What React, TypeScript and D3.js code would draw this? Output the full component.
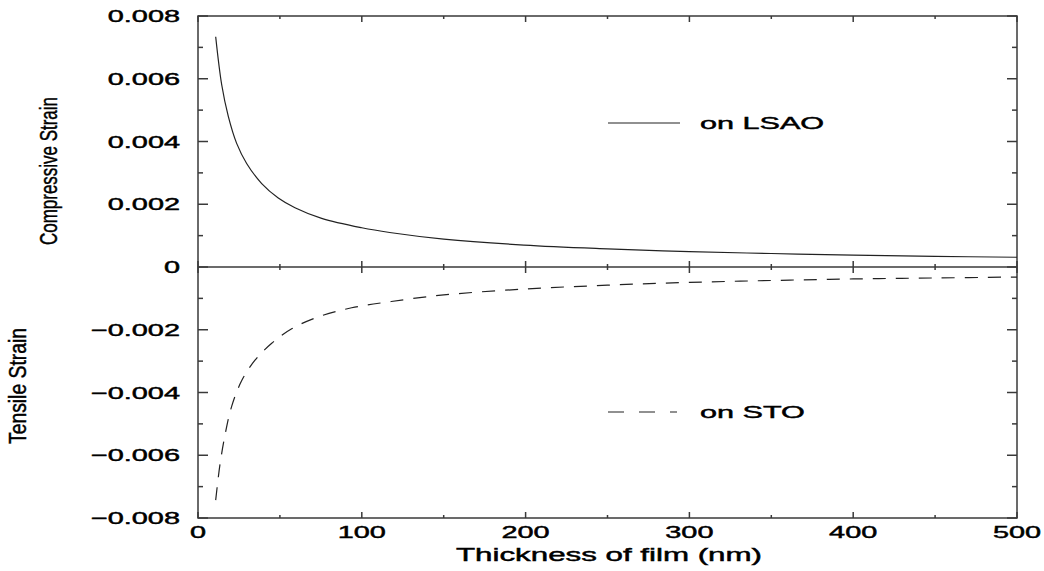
import React from "react";
import * as d3 from "d3";

const W = 1044;
const H = 571;

// Compressive strain on LSAO (upper series)
const lsaoThickness = [10.8, 14.5, 18.5, 23.6, 29.7, 38.9, 49, 59.2, 75.5, 100, 117, 150, 199, 250, 300, 350, 400, 450, 500];
const lsaoStrain = [0.00734, 0.0058, 0.0048, 0.00394, 0.0033, 0.00266, 0.0022, 0.00189, 0.00155, 0.00125, 0.0011, 0.00089, 0.0007, 0.00058, 0.00049, 0.00043, 0.00038, 0.00034, 0.00031];

// Tensile strain on STO (lower series)
const stoThickness = [10.8, 13.4, 16.5, 20.5, 26.7, 34.8, 45, 57.2, 73.4, 93.8, 118, 150, 200, 250, 300, 350, 400, 450, 500];
const stoStrain = [-0.00743, -0.0063, -0.00535, -0.00445, -0.00362, -0.00297, -0.00243, -0.00197, -0.00159, -0.0013, -0.0011, -0.00089, -0.0007, -0.00058, -0.00049, -0.00043, -0.00038, -0.00035, -0.00032];

const xMajorTicks = [0, 100, 200, 300, 400, 500];
const xMinorTicks = [50, 150, 250, 350, 450];
const yMajorTicks = [-0.008, -0.006, -0.004, -0.002, 0, 0.002, 0.004, 0.006, 0.008];
const yMinorTicks = [-0.007, -0.005, -0.003, -0.001, 0.001, 0.003, 0.005, 0.007];
const yTickLabels = ["\u22120.008", "\u22120.006", "\u22120.004", "\u22120.002", "0", "0.002", "0.004", "0.006", "0.008"];
const xTickLabels = ["0", "100", "200", "300", "400", "500"];

const legendLabels = ["on LSAO", "on STO"];
const xTitle = "Thickness of film (nm)";
const yTitleTop = "Compressive Strain";
const yTitleBottom = "Tensile Strain";

const L = 198, R = 1017, T = 16, B = 518;
const AX = "#3a3a3a";
const FONT = "'Liberation Sans', Arial, Helvetica, sans-serif";
const SX = 1.7;
const TS = { stroke: "#000", strokeWidth: 0.45 };

export default function App() {
  const x = d3.scaleLinear().domain([0, 500]).range([L, R]);
  const y = d3.scaleLinear().domain([-0.008, 0.008]).range([B, T]);

  const line = d3
    .line<[number, number]>()
    .x((d) => x(d[0]))
    .y((d) => y(d[1]))
    .curve(d3.curveCatmullRom.alpha(0.5));

  const lsao = line(lsaoThickness.map((t, i) => [t, lsaoStrain[i]]) as [number, number][]) || "";
  const sto = line(stoThickness.map((t, i) => [t, stoStrain[i]]) as [number, number][]) || "";
  const y0 = y(0);

  return (
    <svg
      width={W}
      height={H}
      style={{ position: "absolute", left: 0, top: 0, background: "#fff" }}
    >
      <rect x={0} y={0} width={W} height={H} fill="#fff" />
      {/* frame */}
      <rect x={L} y={T} width={R - L} height={B - T} fill="none" stroke={AX} strokeWidth={1.5} />
      <line x1={L} x2={R} y1={y0} y2={y0} stroke={AX} strokeWidth={1.5} />

      {/* y ticks */}
      {yMajorTicks.map((v) => (
        <g key={"ym" + v}>
          <line x1={L} x2={L + 10} y1={y(v)} y2={y(v)} stroke={AX} strokeWidth={1.5} />
          <line x1={R} x2={R - 10} y1={y(v)} y2={y(v)} stroke={AX} strokeWidth={1.5} />
        </g>
      ))}
      {yMinorTicks.map((v) => (
        <g key={"yn" + v}>
          <line x1={L} x2={L + 5} y1={y(v)} y2={y(v)} stroke={AX} strokeWidth={1.5} />
          <line x1={R} x2={R - 5} y1={y(v)} y2={y(v)} stroke={AX} strokeWidth={1.5} />
        </g>
      ))}
      {/* x ticks */}
      {xMajorTicks.map((v) => (
        <g key={"xm" + v}>
          <line x1={x(v)} x2={x(v)} y1={B} y2={B - 6} stroke={AX} strokeWidth={1.5} />
          <line x1={x(v)} x2={x(v)} y1={T} y2={T + 6} stroke={AX} strokeWidth={1.5} />
          <line x1={x(v)} x2={x(v)} y1={y0 - 6} y2={y0 + 6} stroke={AX} strokeWidth={1.5} />
        </g>
      ))}
      {xMinorTicks.map((v) => (
        <g key={"xn" + v}>
          <line x1={x(v)} x2={x(v)} y1={B} y2={B - 3} stroke={AX} strokeWidth={1.5} />
          <line x1={x(v)} x2={x(v)} y1={T} y2={T + 3} stroke={AX} strokeWidth={1.5} />
          <line x1={x(v)} x2={x(v)} y1={y0 - 3} y2={y0 + 3} stroke={AX} strokeWidth={1.5} />
        </g>
      ))}

      {/* y tick labels */}
      {yMajorTicks.map((v, i) => (
        <g key={"yl" + v} transform={`translate(180,${y(v) + 6}) scale(${SX},1)`}>
          <text textAnchor="end" fontFamily={FONT} fontSize={17} fill="#000" {...TS}>
            {yTickLabels[i]}
          </text>
        </g>
      ))}
      {/* x tick labels */}
      {xMajorTicks.map((v, i) => (
        <g key={"xl" + v} transform={`translate(${x(v)},538) scale(${SX},1)`}>
          <text textAnchor="middle" fontFamily={FONT} fontSize={17} fill="#000" {...TS}>
            {xTickLabels[i]}
          </text>
        </g>
      ))}

      {/* curves */}
      <path d={lsao} fill="none" stroke="#222" strokeWidth={1.2} />
      <path d={sto} fill="none" stroke="#222" strokeWidth={1.2} strokeDasharray="13,10" />

      {/* legend */}
      <line x1={608} x2={680} y1={123} y2={123} stroke="#222" strokeWidth={1.2} />
      <g transform={`translate(700,129) scale(1.8,1)`}>
        <text fontFamily={FONT} fontSize={17} fill="#000" {...TS}>{legendLabels[0]}</text>
      </g>
      <line x1={608} x2={677} y1={412} y2={412} stroke="#222" strokeWidth={1.2} strokeDasharray="16,15" />
      <g transform={`translate(700,418) scale(1.8,1)`}>
        <text fontFamily={FONT} fontSize={17} fill="#000" {...TS}>{legendLabels[1]}</text>
      </g>

      {/* axis titles */}
      <text
        x={609}
        y={561}
        textAnchor="middle"
        fontFamily={FONT}
        fontSize={18}
        textLength={306}
        lengthAdjust="spacingAndGlyphs"
        fill="#000"
        {...TS}
      >
        {xTitle}
      </text>
      <text
        transform="translate(57,171) rotate(-90)"
        textAnchor="middle"
        fontFamily={FONT}
        fontSize={23}
        textLength={148}
        lengthAdjust="spacingAndGlyphs"
        fill="#000"
        {...TS}
      >
        {yTitleTop}
      </text>
      <text
        transform="translate(26,386) rotate(-90)"
        textAnchor="middle"
        fontFamily={FONT}
        fontSize={23}
        textLength={116}
        lengthAdjust="spacingAndGlyphs"
        fill="#000"
        {...TS}
      >
        {yTitleBottom}
      </text>
    </svg>
  );
}
